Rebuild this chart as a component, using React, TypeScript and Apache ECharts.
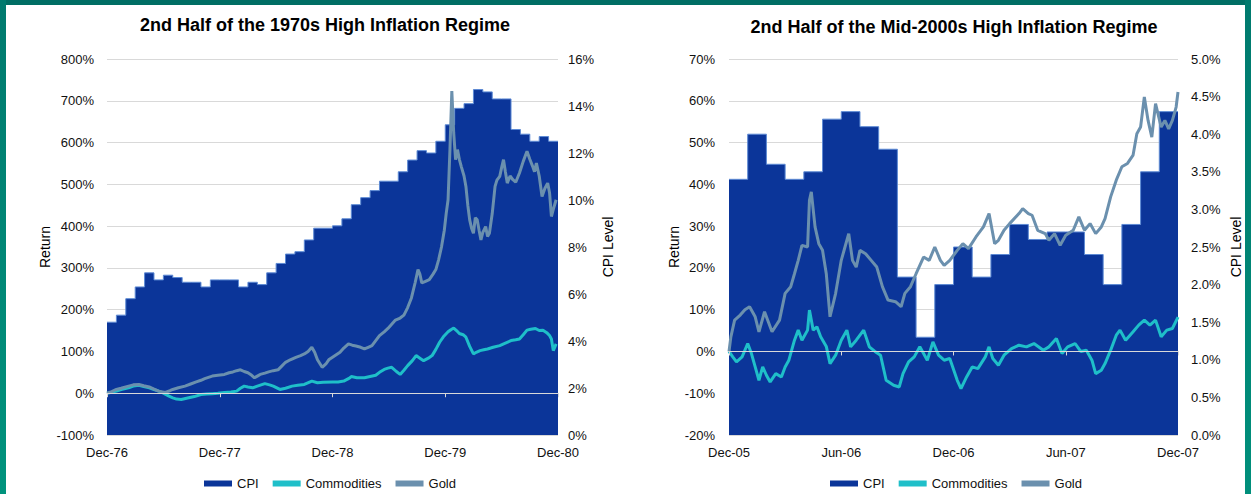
import React, { useEffect, useRef } from "react";
import * as echarts from "echarts";

// ---------- Data: 1970s regime (x = months since Dec-76) ----------
const ticks70s = ["Dec-76", "Dec-77", "Dec-78", "Dec-79", "Dec-80"];
const cpi70s = [
  4.8, 5.1, 5.8, 6.3, 6.9, 6.6, 6.8, 6.7, 6.5, 6.5, 6.3, 6.6,
  6.6, 6.6, 6.3, 6.5, 6.4, 6.9, 7.3, 7.7, 7.8, 8.3, 8.8, 8.8,
  8.9, 9.2, 9.8, 10.1, 10.4, 10.8, 10.8, 11.2, 11.7, 12.1, 12.0, 12.5,
  13.2, 13.9, 14.1, 14.7, 14.6, 14.3, 14.3, 13.0, 12.8, 12.5, 12.7, 12.5,
];
const commodities70s: [number, number][] = [
  [0, 0], [0.5, 2], [1, 5], [1.5, 9], [2.3, 13], [2.8, 17], [3.4, 19], [3.9, 16], [4.5, 13], [5, 9],
  [5.5, 5], [6, 0], [6.6, -7], [7, -11], [7.4, -14], [7.9, -15], [8.7, -11], [9.3, -8], [10, -3],
  [10.6, -2], [11.2, -1], [11.8, 0], [12.5, 2], [13.2, 3], [13.8, 5], [14.2, 12], [14.6, 17], [15, 15],
  [15.5, 13], [16, 17], [16.8, 23], [17.3, 20], [17.7, 17], [18.4, 9], [19, 12], [19.7, 17], [20.3, 19],
  [21, 21], [21.8, 29], [22.4, 25], [23, 26], [24, 27], [24.6, 27], [25.2, 29], [25.8, 36], [26, 40],
  [26.6, 37], [27.4, 37], [28, 40], [28.6, 43], [29, 50], [29.5, 57], [29.9, 60], [30.3, 62], [30.8, 52],
  [31.2, 45], [31.6, 55], [32, 66], [32.5, 78], [32.9, 90], [33.3, 84], [33.7, 78], [34.2, 84], [34.6, 90],
  [35, 105], [35.4, 122], [35.8, 135], [36.3, 147], [36.6, 152], [36.9, 156], [37.2, 150], [37.5, 143],
  [37.9, 140], [38.2, 134], [38.6, 112], [39, 94], [39.3, 98], [39.7, 102], [40.1, 104], [40.5, 106],
  [41.1, 110], [41.8, 114], [42.4, 120], [43, 126], [43.5, 128], [43.9, 130], [44.3, 140], [44.7, 151],
  [45.1, 153], [45.6, 155], [46, 150], [46.4, 151], [46.8, 145], [47.1, 138], [47.3, 130], [47.5, 102],
  [47.8, 118],
];
const gold70s: [number, number][] = [
  [0, 0], [0.5, 4], [1, 9], [1.5, 12], [2.3, 17], [2.8, 20], [3.4, 21], [3.9, 18], [4.5, 15], [5, 10],
  [5.5, 5], [6.2, 2], [6.7, 6], [7, 9], [7.6, 13], [8.3, 17], [8.9, 22], [9.5, 27], [10, 31], [10.4, 35],
  [10.8, 38], [11.2, 41], [11.8, 43], [12.5, 45], [13, 49], [13.4, 51], [13.8, 54], [14.2, 56], [14.6, 52],
  [15, 49], [15.4, 43], [15.7, 37], [16, 41], [16.3, 45], [16.8, 48], [17.2, 51], [17.7, 54], [18.2, 56],
  [18.6, 65], [19, 74], [19.5, 80], [20.1, 86], [20.6, 90], [21, 94], [21.4, 100], [21.8, 110], [22.1, 98],
  [22.4, 80], [22.9, 62], [23.3, 70], [23.6, 80], [24, 86], [24.4, 92], [24.8, 98], [25.2, 108], [25.7, 118],
  [26.1, 115], [26.5, 113], [27, 110], [27.4, 106], [27.8, 110], [28.2, 114], [28.6, 126], [29, 138],
  [29.5, 147], [29.9, 155], [30.3, 165], [30.7, 175], [31.2, 180], [31.6, 187], [32, 205], [32.4, 228],
  [32.8, 265], [33.1, 296], [33.3, 285], [33.5, 264], [33.9, 268], [34.3, 272], [34.7, 285], [35, 296],
  [35.3, 320], [35.6, 350], [35.9, 390], [36.1, 430], [36.3, 463], [36.5, 583], [36.7, 723], [36.9, 623],
  [37.1, 559], [37.3, 583], [37.5, 560], [37.7, 543], [38, 520], [38.2, 495], [38.4, 450], [38.6, 415],
  [38.8, 395], [39, 383], [39.2, 420], [39.4, 415], [39.6, 390], [39.8, 367], [40, 385], [40.3, 399],
  [40.5, 375], [40.7, 383], [41, 430], [41.3, 495], [41.5, 510], [41.8, 519], [42, 540], [42.2, 559],
  [42.4, 530], [42.6, 503], [42.9, 520], [43.2, 511], [43.5, 505], [43.9, 527], [44.3, 555], [44.7, 579],
  [45, 560], [45.3, 543], [45.5, 530], [45.7, 551], [46, 520], [46.3, 471], [46.6, 490], [46.9, 503],
  [47.1, 480], [47.3, 423], [47.5, 440], [47.8, 463],
];

// ---------- Data: mid-2000s regime (x = months since Dec-05) ----------
const ticks00s = ["Dec-05", "Jun-06", "Dec-06", "Jun-07", "Dec-07"];
const cpi00s = [
  3.4, 4.0, 3.6, 3.4, 3.5, 4.2, 4.3, 4.1, 3.8, 2.1, 1.3, 2.0,
  2.5, 2.1, 2.4, 2.8, 2.6, 2.7, 2.7, 2.4, 2.0, 2.8, 3.5, 4.3,
];
const commodities00s: [number, number][] = [
  [0, 0], [0.2, -1.3], [0.4, -2.5], [0.7, -1.3], [1, 1.9], [1.2, -0.5], [1.4, -3.7], [1.6, -6.9],
  [1.8, -3.7], [2, -5.7], [2.2, -7.3], [2.5, -5.3], [2.8, -6.1], [3, -3.7], [3.2, -2.1], [3.5, 2.7],
  [3.7, 5.1], [3.9, 2.7], [4.2, 5.1], [4.3, 9.9], [4.5, 5.1], [4.7, 5.9], [4.9, 3.5], [5.2, 1.2],
  [5.4, -2.9], [5.7, -0.9], [6, 2.7], [6.3, 5.1], [6.5, 1.1], [6.8, 2.7], [7.2, 5.1], [7.5, 1.1],
  [7.8, 0], [8.1, -0.9], [8.4, -6.9], [8.8, -8.1], [9.1, -8.5], [9.3, -5.3], [9.6, -2.5], [9.9, -1.3],
  [10.2, 1.1], [10.6, -2.1], [10.9, 2.3], [11.2, -0.9], [11.5, -2.1], [11.8, -1.7], [12.2, -6.9],
  [12.4, -8.9], [12.7, -6.1], [13, -3.7], [13.3, -4.1], [13.7, -1.3], [13.9, 1.1], [14.1, -1.7],
  [14.4, -3.3], [14.7, -0.9], [15.1, 0.7], [15.5, 1.5], [15.9, 1.1], [16.3, 1.9], [16.8, 0.3],
  [17.1, 1.1], [17.5, 3.1], [17.8, -0.5], [18.1, 1.1], [18.5, 1.9], [18.8, 0], [19.1, 0.3], [19.4, -2.1],
  [19.6, -5.3], [19.9, -4.5], [20.1, -2.9], [20.4, 0.3], [20.7, 3.9], [20.9, 5.1], [21.2, 2.7],
  [21.6, 4.7], [21.9, 6.3], [22.2, 7.5], [22.5, 6.3], [22.8, 7.5], [23.1, 3.5], [23.4, 5.1], [23.7, 5.5],
  [24, 8.2],
];
const gold00s: [number, number][] = [
  [0, 0], [0.1, 3.5], [0.3, 7.5], [0.6, 8.7], [0.85, 10], [1.1, 10.7], [1.4, 8.3], [1.6, 4.7], [1.9, 9.5],
  [2.1, 7.1], [2.3, 4.7], [2.7, 7.5], [3, 13.9], [3.3, 15.5], [3.5, 18.6], [3.7, 21.8], [3.9, 25.4],
  [4.2, 25], [4.3, 36.2], [4.4, 38.2], [4.6, 29.8], [4.8, 25.8], [5, 24.2], [5.2, 18.6], [5.4, 8.3],
  [5.7, 13.9], [6, 21.8], [6.2, 25], [6.4, 28.2], [6.6, 21.8], [6.8, 20.2], [7, 24.2], [7.3, 23.4],
  [7.6, 21.8], [7.9, 20.2], [8.2, 15.5], [8.5, 12.3], [8.9, 11.9], [9.2, 10.7], [9.4, 13.9], [9.7, 15.5],
  [10, 18.6], [10.4, 22.6], [10.7, 21.8], [11, 25], [11.3, 21.8], [11.5, 20.6], [11.8, 21.8], [12.2, 24.2],
  [12.5, 25.8], [12.8, 24.6], [13.2, 27.4], [13.6, 29.8], [13.9, 33], [14.2, 25.8], [14.4, 26.6],
  [14.7, 29], [15, 30.6], [15.5, 33], [15.7, 34.2], [16, 33], [16.2, 32.6], [16.5, 29], [16.9, 28.2],
  [17.1, 26.6], [17.4, 28.2], [17.7, 25.4], [18, 27.8], [18.4, 29], [18.7, 32.2], [19, 29], [19.3, 30.6],
  [19.6, 28.2], [19.9, 29.8], [20.1, 31.8], [20.4, 37], [20.7, 41], [21, 44.2], [21.3, 45], [21.6, 47],
  [21.8, 52.1], [22, 53.7], [22.2, 60.9], [22.4, 55.3], [22.6, 51.3], [22.8, 59.3], [23.1, 53.7],
  [23.3, 55.3], [23.5, 53.3], [23.7, 55.3], [23.9, 58.5], [24, 62.1],
];

const titles = [
  "2nd Half of the 1970s High Inflation Regime",
  "2nd Half of the Mid-2000s High Inflation Regime",
];

const FONT = '"Liberation Sans", Arial, Helvetica, sans-serif';
const TXT = "#111111";
const CPI_COLOR = "#0b3599";
const COMM_COLOR = "#1fbfc9";
const GOLD_COLOR = "#6b90ae";
const GRID_COLOR = "#d9d9d9";

function stepData(vals: number[]) {
  const d = vals.map((v, i) => [i, v]);
  d.push([vals.length, vals[vals.length - 1]]);
  return d;
}

function buildOption() {
  const grids = [
    { left: 107, top: 59, width: 451, height: 376 },
    { left: 729, top: 59, width: 449, height: 376 },
  ];
  const labelX = (g: number, max: number, interval: number, ticks: string[]) => ({
    type: "value",
    gridIndex: g,
    min: 0,
    max,
    interval,
    position: "bottom",
    axisLine: { show: false, onZero: false },
    axisTick: { show: false },
    splitLine: { show: false },
    axisLabel: {
      margin: 11,
      fontSize: 13,
      color: TXT,
      fontFamily: FONT,
      showMinLabel: true,
      showMaxLabel: true,
      formatter: (v: number) => ticks[Math.round(v / interval)] ?? "",
    },
  });
  const zeroX = (g: number, max: number, interval: number, yIdx: number) => ({
    type: "value",
    gridIndex: g,
    min: 0,
    max,
    interval,
    position: "bottom",
    z: 10,
    axisLine: { show: true, onZero: true, onZeroAxisIndex: yIdx, lineStyle: { color: GRID_COLOR, width: 1.2 } },
    axisTick: { show: true, length: 4, lineStyle: { color: GRID_COLOR } },
    axisLabel: { show: false },
    splitLine: { show: false },
  });
  const leftY = (g: number, min: number, max: number, interval: number, gap: number, margin: number) => ({
    type: "value",
    gridIndex: g,
    position: "left",
    min,
    max,
    interval,
    name: "Return",
    nameLocation: "middle",
    nameRotate: 90,
    nameGap: gap,
    nameTextStyle: { fontSize: 14, color: "#000", fontFamily: FONT },
    axisLine: { show: false, onZero: false },
    axisTick: { show: false },
    splitLine: { show: true, lineStyle: { color: GRID_COLOR, width: 1 } },
    axisLabel: { margin, fontSize: 13, color: TXT, fontFamily: FONT, formatter: (v: number) => `${v}%` },
  });
  const rightY = (g: number, max: number, interval: number, digits: number, gap: number, margin: number) => ({
    type: "value",
    gridIndex: g,
    position: "right",
    min: 0,
    max,
    interval,
    name: "CPI Level",
    nameLocation: "middle",
    nameRotate: 90,
    nameGap: gap,
    nameTextStyle: { fontSize: 14, color: "#000", fontFamily: FONT },
    axisLine: { show: false, onZero: false },
    axisTick: { show: false },
    splitLine: { show: false },
    axisLabel: { margin, fontSize: 13, color: TXT, fontFamily: FONT, formatter: (v: number) => `${v.toFixed(digits)}%` },
  });

  const cpiSeries = (xi: number, yi: number, vals: number[]) => ({
    name: "CPI",
    type: "line",
    xAxisIndex: xi,
    yAxisIndex: yi,
    step: "end",
    symbol: "none",
    data: stepData(vals),
    itemStyle: { color: CPI_COLOR },
    lineStyle: { color: "#5d8ad4", width: 1 },
    areaStyle: { color: CPI_COLOR, opacity: 1 },
    z: 2,
  });
  const lineSeries = (name: string, color: string, xi: number, yi: number, data: [number, number][], z: number) => ({
    name,
    type: "line",
    xAxisIndex: xi,
    yAxisIndex: yi,
    symbol: "none",
    data,
    itemStyle: { color },
    lineStyle: { color, width: 3 },
    z,
  });

  const legend = (left: number) => ({
    left,
    top: 472,
    itemWidth: 28,
    itemHeight: 6,
    itemGap: 14,
    selectedMode: false,
    data: [
      { name: "CPI", icon: "rect" },
      { name: "Commodities", icon: "rect" },
      { name: "Gold", icon: "rect" },
    ],
    textStyle: { fontSize: 13, color: TXT, fontFamily: FONT },
  });

  return {
    animation: false,
    backgroundColor: "transparent",
    textStyle: { fontFamily: FONT },
    grid: grids,
    graphic: [
      {
        type: "text",
        x: 325,
        y: 25,
        style: { text: titles[0], fill: "#000", font: `bold 18px ${FONT}`, textAlign: "center", textVerticalAlign: "middle" },
      },
      {
        type: "text",
        x: 954,
        y: 27,
        style: { text: titles[1], fill: "#000", font: `bold 18px ${FONT}`, textAlign: "center", textVerticalAlign: "middle" },
      },
    ],
    xAxis: [
      labelX(0, 48, 12, ticks70s),
      zeroX(0, 48, 12, 0),
      labelX(1, 24, 6, ticks00s),
      zeroX(1, 24, 6, 2),
    ],
    yAxis: [
      leftY(0, -100, 800, 100, 55, 13),
      rightY(0, 16, 2, 0, 43, 10),
      leftY(1, -20, 70, 10, 48, 14),
      rightY(1, 5, 0.5, 1, 51, 13),
    ],
    legend: [legend(199), legend(825)],
    series: [
      cpiSeries(0, 1, cpi70s),
      lineSeries("Commodities", COMM_COLOR, 0, 0, commodities70s, 3),
      lineSeries("Gold", GOLD_COLOR, 0, 0, gold70s, 4),
      cpiSeries(2, 3, cpi00s),
      lineSeries("Commodities", COMM_COLOR, 2, 2, commodities00s, 3),
      lineSeries("Gold", GOLD_COLOR, 2, 2, gold00s, 4),
    ],
  };
}

export default function App() {
  const ref = useRef<HTMLDivElement>(null);
  useEffect(() => {
    if (!ref.current) return;
    const chart = echarts.init(ref.current, null, { renderer: "svg", width: 1251, height: 494 });
    chart.setOption(buildOption() as any);
    return () => chart.dispose();
  }, []);
  return (
    <div
      style={{
        position: "absolute",
        left: 0,
        top: 0,
        width: 1251,
        height: 494,
        background: "#ffffff",
        overflow: "hidden",
      }}
    >
      <div style={{ position: "absolute", left: 0, top: 0, width: 1251, height: 5, background: "#006e64" }} />
      <div style={{ position: "absolute", left: 0, top: 0, width: 6, height: 494, background: "linear-gradient(#007a6e, #00937d)" }} />
      <div style={{ position: "absolute", left: 1245, top: 0, width: 6, height: 494, background: "linear-gradient(#007a6e, #008f7b)" }} />
      <div ref={ref} style={{ position: "absolute", left: 0, top: 0, width: 1251, height: 494 }} />
    </div>
  );
}
